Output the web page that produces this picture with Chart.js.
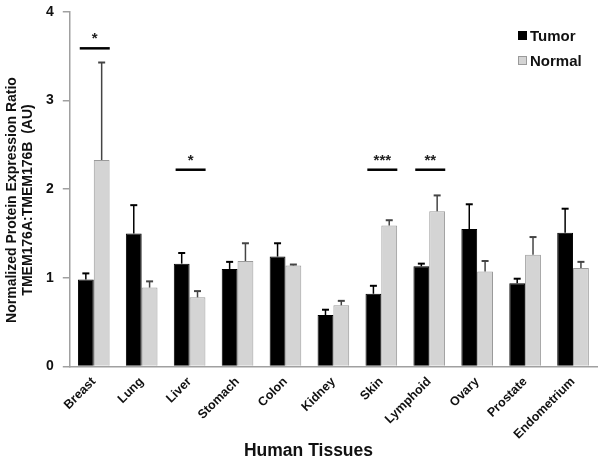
<!DOCTYPE html>
<html>
<head>
<meta charset="utf-8">
<script src="https://cdn.jsdelivr.net/npm/chart.js@4/dist/chart.umd.min.js"></script>
<style>
html,body{margin:0;padding:0;background:#fff;}
#wrap{width:604px;height:462px;position:relative;}
</style>
</head>
<body>
<div id="wrap"><canvas id="c" width="604" height="462"></canvas></div>
<script>
const categories = ["Breast","Lung","Liver","Stomach","Colon","Kidney","Skin","Lymphoid","Ovary","Prostate","Endometrium"];
const tumor      = [0.98, 1.50, 1.16, 1.10, 1.24, 0.58, 0.82, 1.13, 1.55, 0.94, 1.51];
const tumorErr   = [0.07, 0.32, 0.12, 0.08, 0.15, 0.06, 0.09, 0.03, 0.28, 0.05, 0.27];
const normal     = [2.33, 0.89, 0.78, 1.19, 1.14, 0.69, 1.59, 1.75, 1.07, 1.26, 1.11];
const normalErr  = [1.10, 0.07, 0.07, 0.20, 0.01, 0.05, 0.06, 0.18, 0.12, 0.20, 0.07];
const yTicks     = [0, 1, 2, 3, 4];
const xTitle     = "Human Tissues";
const yTitle     = ["Normalized Protein Expression Ratio", "TMEM176A:TMEM176B  (AU)"];
// significance markers: category index, label, level (y value of the bar line)
const sigIndex   = [0, 2, 6, 7];
const sigLabels  = ["*", "*", "***", "**"];
const sigLevels  = [3.59, 2.22, 2.22, 2.22];

const FONT = "'Liberation Sans', Arial, sans-serif";

const errorBars = {
  id: 'errorBars',
  afterDatasetsDraw(chart) {
    const ctx = chart.ctx;
    const ys = chart.scales.y;
    const errs = [tumorErr, normalErr];
    const cols = ['#000000', '#444444'];
    ctx.save();
    chart.data.datasets.forEach((ds, di) => {
      const meta = chart.getDatasetMeta(di);
      meta.data.forEach((bar, i) => {
        const v = ds.data[i];
        const top = ys.getPixelForValue(v + errs[di][i]);
        const base = ys.getPixelForValue(v);
        ctx.strokeStyle = cols[di];
        ctx.lineWidth = 1.5;
        ctx.beginPath();
        ctx.moveTo(bar.x, base);
        ctx.lineTo(bar.x, top);
        ctx.stroke();
        ctx.lineWidth = 2;
        ctx.beginPath();
        ctx.moveTo(bar.x - 3.5, top);
        ctx.lineTo(bar.x + 3.5, top);
        ctx.stroke();
      });
    });
    ctx.restore();
  }
};

const sigMarks = {
  id: 'sigMarks',
  afterDatasetsDraw(chart) {
    const ctx = chart.ctx;
    const xs = chart.scales.x, ys = chart.scales.y;
    ctx.save();
    sigIndex.forEach((ci, k) => {
      const cx = xs.getPixelForValue(ci);
      const y = ys.getPixelForValue(sigLevels[k]);
      ctx.strokeStyle = '#000';
      ctx.lineWidth = 2.5;
      ctx.beginPath();
      ctx.moveTo(cx - 14, y);
      ctx.lineTo(cx + 16, y);
      ctx.stroke();
      ctx.fillStyle = '#222';
      ctx.font = 'bold 15px ' + FONT;
      ctx.textAlign = 'center';
      ctx.textBaseline = 'alphabetic';
      ctx.fillText(sigLabels[k], cx + 1, y - 5);
    });
    ctx.restore();
  }
};

const titlesAndLegend = {
  id: 'titlesAndLegend',
  afterDraw(chart) {
    const ctx = chart.ctx;
    ctx.save();
    // legend
    const items = [
      {label: 'Tumor', fill: '#000000', stroke: '#000000', y: 36},
      {label: 'Normal', fill: '#d4d4d4', stroke: '#9a9a9a', y: 61}
    ];
    items.forEach(it => {
      ctx.fillStyle = it.fill;
      ctx.fillRect(518, it.y - 5, 9, 9);
      ctx.strokeStyle = it.stroke;
      ctx.lineWidth = 1;
      ctx.strokeRect(518.5, it.y - 4.5, 8, 8);
      ctx.fillStyle = '#111';
      ctx.font = 'bold 15px ' + FONT;
      ctx.textAlign = 'left';
      ctx.textBaseline = 'middle';
      ctx.fillText(it.label, 530, it.y + 1);
    });
    // x title
    ctx.fillStyle = '#111';
    ctx.font = 'bold 17.5px ' + FONT;
    ctx.textAlign = 'center';
    ctx.textBaseline = 'alphabetic';
    ctx.fillText(xTitle, 308.5, 455.5);
    // y title
    ctx.translate(0, 200);
    ctx.rotate(-Math.PI / 2);
    ctx.font = 'bold 14px ' + FONT;
    ctx.textBaseline = 'middle';
    ctx.fillText(yTitle[0], 0, 12);
    ctx.fillText(yTitle[1], 0, 28);
    ctx.restore();
  }
};

new Chart(document.getElementById('c'), {
  type: 'bar',
  data: {
    labels: categories,
    datasets: [
      {label: 'Tumor', data: tumor, backgroundColor: '#000000', borderColor: '#000000', borderWidth: 1},
      {label: 'Normal', data: normal, backgroundColor: '#d4d4d4', borderColor: '#9a9a9a', borderWidth: 1}
    ]
  },
  options: {
    responsive: false,
    animation: false,
    devicePixelRatio: 1,
    layout: {padding: {top: 0, right: 7, left: 37, bottom: 20}},
    categoryPercentage: 0.66,
    barPercentage: 1.0,
    plugins: {
      legend: {display: false},
      tooltip: {enabled: false}
    },
    scales: {
      x: {
        grid: {display: false},
        border: {display: true, color: '#a0a0a0', width: 1.5},
        ticks: {
          minRotation: 45, maxRotation: 45, color: '#111', padding: 0,
          font: {family: FONT, size: 12.5, weight: 'bold'}
        }
      },
      y: {
        min: 0, max: 4,
        afterBuildTicks(scale) { scale.ticks = yTicks.map(v => ({value: v})); },
        afterFit(scale) { scale.paddingTop = 12; },
        grid: {drawOnChartArea: false, drawTicks: true, tickLength: 7, color: '#a0a0a0', lineWidth: 1.5},
        border: {display: true, color: '#a0a0a0', width: 1.5},
        ticks: {color: '#111', padding: 9, font: {family: FONT, size: 14, weight: 'bold'}}
      }
    }
  },
  plugins: [errorBars, sigMarks, titlesAndLegend]
});
</script>
</body>
</html>
